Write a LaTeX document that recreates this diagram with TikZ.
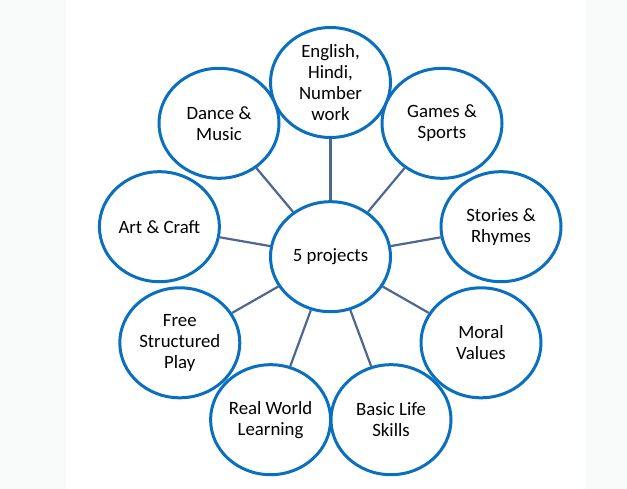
\documentclass[tikz,border=0pt]{standalone}
\usepackage{fontspec}
\setmainfont{Carlito}
\usetikzlibrary{shapes.geometric,backgrounds}

\definecolor{azul}{HTML}{0A6FBF}
\definecolor{gris}{HTML}{4F6790}
\definecolor{fondo}{HTML}{F8F9F9}

\tikzset{
  burbuja/.style={ellipse,draw=azul,line width=3pt,fill=white,inner sep=0pt,
    minimum width=120pt,minimum height=110pt,align=center,
    font=\fontsize{18.8}{21}\selectfont},
  enlace/.style={draw=gris,line width=2.2pt}
}

\begin{document}
\begin{tikzpicture}[x=1pt,y=-1pt]
%marco de la figura con las franjas laterales
\useasboundingbox (0,0) rectangle (627,489);
\fill [fondo] (0,0) rectangle (66,489);
\fill [fondo] (586,0) rectangle (627,489);

%burbuja central
\node [burbuja] (centro) at (330.5,256.7) {5 projects};

%burbujas alrededor
\node [burbuja] (lenguas) at (330.5,82.5) {English,\\Hindi,\\Number\\work};
\node [burbuja] (danza) at (219,123.3) {Dance \&\\Music};
\node [burbuja] (juegos) at (442,123.3) {Games \&\\Sports};
\node [burbuja] (arte) at (159.4,226.7) {Art \& Craft};
\node [burbuja] (cuentos) at (501,226.7) {Stories \&\\Rhymes};
\node [burbuja] (juego) at (179.8,342.8) {Free\\Structured\\Play};
\node [burbuja] (valores) at (481,342.8) {Moral\\Values};
\node [burbuja] (mundo) at (270.6,419.7) {Real World\\Learning};
\node [burbuja] (vida) at (391,419.7) {Basic Life\\Skills};

%lineas desde el centro
\begin{pgfonlayer}{background}
\foreach \n in {lenguas,danza,juegos,arte,cuentos,juego,valores,mundo,vida}
	\draw [enlace] (centro) -- (\n);
\end{pgfonlayer}
\end{tikzpicture}
\end{document}
